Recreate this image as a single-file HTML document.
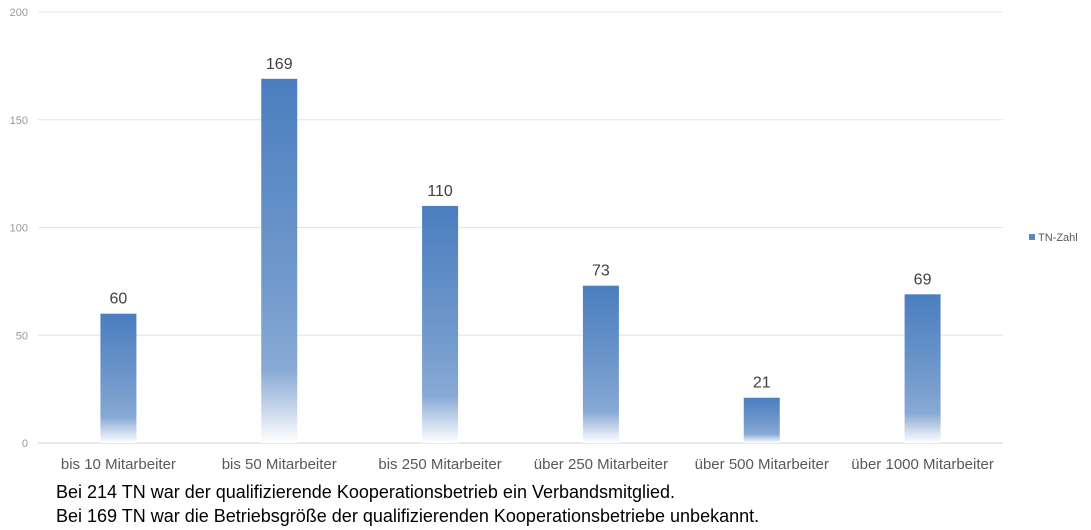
<!DOCTYPE html>
<html><head><meta charset="utf-8"><style>
body{margin:0;background:#fff;width:1091px;height:530px;overflow:hidden;font-family:"Liberation Sans",sans-serif}
svg{position:absolute;left:0;top:0}
.note{position:absolute;left:56px;font-size:18px;color:#000}
</style></head><body>
<svg id="chart" width="1091" height="530">
<defs><linearGradient id="g" x1="0" y1="0" x2="0" y2="1">
<stop offset="0" stop-color="#4a7ebf"/><stop offset="0.55" stop-color="#7199cc"/><stop offset="0.8" stop-color="#88a9d4"/><stop offset="1" stop-color="#ffffff"/></linearGradient></defs>
</svg>
<div class="note" style="top:482px">Bei 214 TN war der qualifizierende Kooperationsbetrieb ein Verbandsmitglied.</div>
<div class="note" style="top:506px">Bei 169 TN war die Betriebsgröße der qualifizierenden Kooperationsbetriebe unbekannt.</div>
<script>
const categories=["bis 10 Mitarbeiter","bis 50 Mitarbeiter","bis 250 Mitarbeiter","über 250 Mitarbeiter","über 500 Mitarbeiter","über 1000 Mitarbeiter"];
const values=[60,169,110,73,21,69];
const ticks=[0,50,100,150,200];
const svg=document.getElementById('chart');
const NS='http://www.w3.org/2000/svg';
const x0=38,x1=1003,y0=443,yTop=12,yMax=200;
const y=v=>y0-(v/yMax)*(y0-yTop);
const band=(x1-x0)/categories.length;
const xc=i=>x0+band*(i+0.5);
function mk(t,a,txt){const e=document.createElementNS(NS,t);for(const k in a)e.setAttribute(k,a[k]);if(txt!==undefined)e.textContent=txt;svg.appendChild(e);return e;}
ticks.forEach(t=>{
const l=mk('line',{x1:x0,x2:x1,y1:y(t),y2:y(t),stroke:t===0?'#d0d0d0':'#e4e4e4','stroke-width':1});


const tx=mk('text',{x:28,y:y(t)+4,'text-anchor':'end','font-size':11,fill:'#999'},t);


});
categories.forEach((c,i)=>{
const w=36;
const r=mk('rect',{x:xc(i)-w/2,y:y(values[i]),width:w,height:y0-y(values[i]),fill:'url(#g)'});


const v=mk('text',{x:xc(i),y:y(values[i])-10,'text-anchor':'middle','font-size':16,fill:'#404040'},values[i]);


const cl=mk('text',{x:xc(i),y:469,'text-anchor':'middle','font-size':15,fill:'#595959'},c);


});
const lg=mk('rect',{x:1029,y:234,width:6,height:6,fill:'#5a88c6'});


const lt=mk('text',{x:1038,y:241,'font-size':11,fill:'#595959'},'TN-Zahl');


</script>
</body></html>
